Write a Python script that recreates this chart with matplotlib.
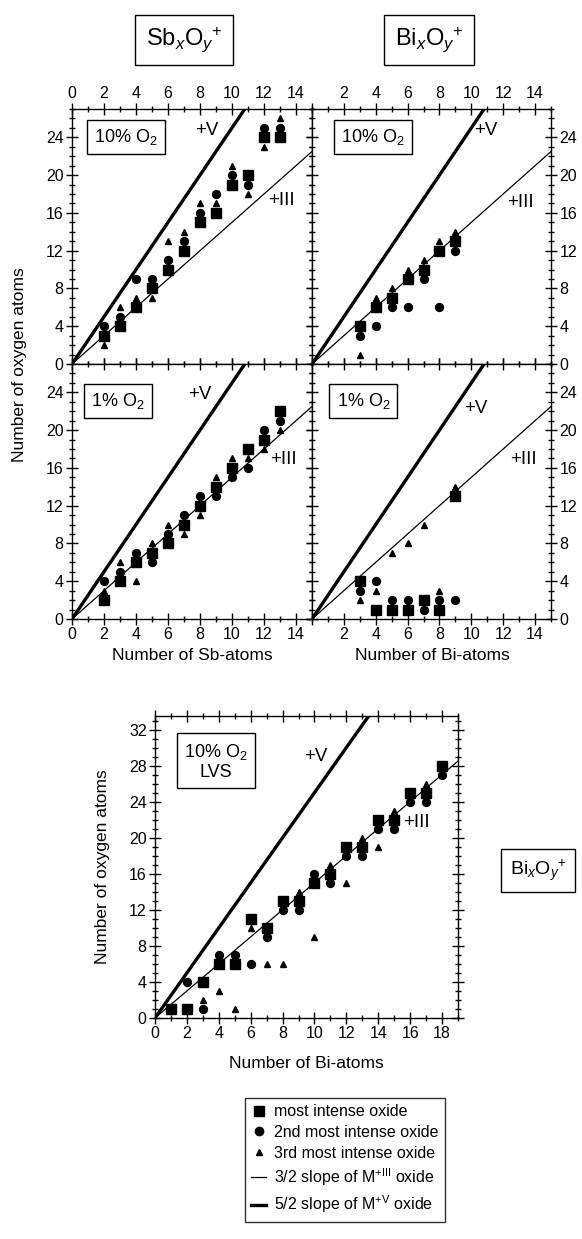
import matplotlib
matplotlib.use('Agg')
import matplotlib.pyplot as plt
from matplotlib.ticker import MultipleLocator
from matplotlib.lines import Line2D

plt.rcParams['font.family'] = ['Liberation Sans', 'DejaVu Sans']
plt.rcParams['mathtext.fontset'] = 'custom'
plt.rcParams['mathtext.rm'] = 'Liberation Sans'
plt.rcParams['mathtext.it'] = 'Liberation Sans:italic'

# slopes of the reference oxide lines
slope_iii = 1.5
slope_v = 2.5

# Sb, 10% O2
sb10_x = [2, 3, 4, 5, 6, 7, 8, 9, 10, 11, 12, 13]
sb10_sq = [3, 4, 6, 8, 10, 12, 15, 16, 19, 20, 24, 24]
sb10_ci = [4, 5, 9, 9, 11, 13, 16, 18, 20, 19, 25, 25]
sb10_tr = [2, 6, 7, 7, 13, 14, 17, 17, 21, 18, 23, 26]

# Bi, 10% O2
bi10_x = [3, 4, 5, 6, 7, 8, 9]
bi10_sq = [4, 6, 7, 9, 10, 12, 13]
bi10_ci = [3, 4, 6, 6, 9, 6, 12]
bi10_tr = [1, 7, 8, 10, 11, 13, 14]

# Sb, 1% O2
sb1_x = [2, 3, 4, 5, 6, 7, 8, 9, 10, 11, 12, 13]
sb1_sq = [2, 4, 6, 7, 8, 10, 12, 14, 16, 18, 19, 22]
sb1_ci = [4, 5, 7, 6, 9, 11, 13, 13, 15, 16, 20, 21]
sb1_tr = [3, 6, 4, 8, 10, 9, 11, 15, 17, 17, 18, 20]

# Bi, 1% O2
bi1_x = [3, 4, 5, 6, 7, 8, 9]
bi1_sq = [4, 1, 1, 1, 2, 1, 13]
bi1_ci = [3, 4, 2, 2, 1, 2, 2]
bi1_tr = [2, 3, 7, 8, 10, 3, 14]

# Bi, 10% O2, LVS
lvs_sq_x = [1, 2, 3, 4, 5, 6, 7, 8, 9, 10, 11, 12, 13, 14, 15, 16, 17, 18]
lvs_sq = [1, 1, 4, 6, 6, 11, 10, 13, 13, 15, 16, 19, 19, 22, 22, 25, 25, 28]
lvs_ci_x = [2, 3, 4, 5, 6, 7, 8, 9, 10, 11, 12, 13, 14, 15, 16, 17, 18]
lvs_ci = [4, 1, 7, 7, 6, 9, 12, 12, 16, 15, 18, 18, 21, 21, 24, 24, 27]
lvs_tr_x = [3, 4, 5, 6, 7, 8, 9, 10, 11, 12, 13, 14, 15, 17]
lvs_tr = [2, 3, 1, 10, 6, 6, 14, 9, 17, 15, 20, 19, 23, 26]

W, H = 582, 1239
fig = plt.figure(figsize=(W / 100, H / 100), dpi=100)


def rect(x0, y0, x1, y1):
    return [x0 / W, 1 - y1 / H, (x1 - x0) / W, (y1 - y0) / H]


def panel(ax, xmax, ymax, xs, sq, ci, tr, xsc=None, xtr=None):
    xl = [0, xmax]
    ax.plot(xl, [slope_iii * v for v in xl], color='black', lw=0.9)
    ax.plot(xl, [slope_v * v for v in xl], color='black', lw=2.4)
    ax.plot(xs, sq, 's', color='black', ms=7.3, zorder=3)
    ax.plot(xsc if xsc else xs, ci, 'o', color='black', ms=5.7, zorder=3)
    ax.plot(xtr if xtr else xs, tr, '^', color='black', ms=4.8, zorder=3)
    ax.set_xlim(0, xmax)
    ax.set_ylim(0, ymax)
    ax.xaxis.set_minor_locator(MultipleLocator(1))
    ax.yaxis.set_minor_locator(MultipleLocator(1))
    ax.tick_params(which='both', direction='inout', top=True, right=True,
                   labelsize=11.5, pad=2, width=1)
    ax.tick_params(which='major', length=8)
    ax.tick_params(which='minor', length=5)
    for s in ax.spines.values():
        s.set_linewidth(1)


def boxlabel(ax, x, y, txt, size=13):
    ax.text(x, y, txt, transform=ax.transAxes, fontsize=size, ha='center', va='center',
            bbox=dict(boxstyle='square,pad=0.4', fc='white', ec='black', lw=1), zorder=5)


ax_tl = fig.add_axes(rect(72, 109, 312, 364))
ax_tr = fig.add_axes(rect(312, 109, 551, 364))
ax_bl = fig.add_axes(rect(72, 364, 312, 619))
ax_br = fig.add_axes(rect(312, 364, 551, 619))
ax_lv = fig.add_axes(rect(155, 716, 458, 1018))

panel(ax_tl, 15, 27, sb10_x, sb10_sq, sb10_ci, sb10_tr)
panel(ax_tr, 15, 27, bi10_x, bi10_sq, bi10_ci, bi10_tr)
panel(ax_bl, 15, 27, sb1_x, sb1_sq, sb1_ci, sb1_tr)
panel(ax_br, 15, 27, bi1_x, bi1_sq, bi1_ci, bi1_tr)
panel(ax_lv, 19, 33.5, lvs_sq_x, lvs_sq, lvs_ci, lvs_tr, lvs_ci_x, lvs_tr_x)

for ax in [ax_tl, ax_tr, ax_bl, ax_br]:
    ax.set_xticks(range(0, 15, 2))
    ax.set_yticks(range(0, 25, 4))
for ax in [ax_tr, ax_br]:
    ax.set_xticklabels([''] + [str(v) for v in range(2, 15, 2)])

ax_tl.tick_params(labeltop=True, labelbottom=False, labelleft=True, labelright=False)
ax_tr.tick_params(labeltop=True, labelbottom=False, labelleft=False, labelright=True)
ax_bl.tick_params(labeltop=False, labelbottom=True, labelleft=True, labelright=False)
ax_br.tick_params(labeltop=False, labelbottom=True, labelleft=False, labelright=True)

ax_lv.set_xticks(range(0, 19, 2))
ax_lv.set_yticks(range(0, 33, 4))

# panel labels
boxlabel(ax_tl, 0.225, 0.89, '10% O$_2$')
boxlabel(ax_tr, 0.255, 0.89, '10% O$_2$')
boxlabel(ax_bl, 0.19, 0.855, '1% O$_2$')
boxlabel(ax_br, 0.215, 0.855, '1% O$_2$')
boxlabel(ax_lv, 0.2, 0.85, '10% O$_2$\nLVS')

tsz = 13.5
ax_tl.text(8.4, 24.7, '+V', fontsize=tsz, ha='center', va='center')
ax_tl.text(13.1, 17.3, '+III', fontsize=tsz, ha='center', va='center')
ax_tr.text(10.9, 24.7, '+V', fontsize=tsz, ha='center', va='center')
ax_tr.text(13.1, 17.1, '+III', fontsize=tsz, ha='center', va='center')
ax_bl.text(8.0, 23.8, '+V', fontsize=tsz, ha='center', va='center')
ax_bl.text(13.2, 16.9, '+III', fontsize=tsz, ha='center', va='center')
ax_br.text(10.3, 22.3, '+V', fontsize=tsz, ha='center', va='center')
ax_br.text(13.3, 16.9, '+III', fontsize=tsz, ha='center', va='center')
ax_lv.text(10.1, 29.0, '+V', fontsize=tsz, ha='center', va='center')
ax_lv.text(16.4, 21.7, '+III', fontsize=tsz, ha='center', va='center')

# axis titles
fig.text(20 / W, 1 - 365 / H, 'Number of oxygen atoms', rotation=90, fontsize=12.5,
         ha='center', va='center')
fig.text(192 / W, 1 - 655 / H, 'Number of Sb-atoms', fontsize=12.5, ha='center', va='center')
fig.text(432 / W, 1 - 655 / H, 'Number of Bi-atoms', fontsize=12.5, ha='center', va='center')
fig.text(103 / W, 1 - 867 / H, 'Number of oxygen atoms', rotation=90, fontsize=12.5,
         ha='center', va='center')
fig.text(306 / W, 1 - 1063 / H, 'Number of Bi-atoms', fontsize=12.5, ha='center', va='center')

# compound labels
bb = dict(boxstyle='square,pad=0.45', fc='white', ec='black', lw=1)
fig.text(184 / W, 1 - 40 / H, r'Sb$_{x}$O$_{y}$$^{+}$', fontsize=17, ha='center', va='center', bbox=bb)
fig.text(429 / W, 1 - 40 / H, r'Bi$_{x}$O$_{y}$$^{+}$', fontsize=17, ha='center', va='center', bbox=bb)
fig.text(538 / W, 1 - 870 / H, r'Bi$_{x}$O$_{y}$$^{+}$', fontsize=14, ha='center', va='center',
         bbox=dict(boxstyle='square,pad=0.45', fc='white', ec='black', lw=1))

# legend
handles = [
    Line2D([], [], ls='none', marker='s', color='black', ms=7),
    Line2D([], [], ls='none', marker='o', color='black', ms=6),
    Line2D([], [], ls='none', marker='^', color='black', ms=5),
    Line2D([], [], color='black', lw=0.9),
    Line2D([], [], color='black', lw=2.4),
]
labels = ['most intense oxide', '2nd most intense oxide', '3rd most intense oxide',
          r'3/2 slope of M$^{+\mathrm{III}}$ oxide', r'5/2 slope of M$^{+\mathrm{V}}$ oxide']
leg = fig.legend(handles, labels, loc='upper left', bbox_to_anchor=(245 / W, 1 - 1098 / H),
                 fontsize=11.5, frameon=True, fancybox=False, edgecolor='black',
                 handlelength=0.9, handletextpad=0.5, labelspacing=0.35, borderpad=0.4,
                 borderaxespad=0)
leg.get_frame().set_linewidth(1)

fig.savefig('out.png', dpi=100)
